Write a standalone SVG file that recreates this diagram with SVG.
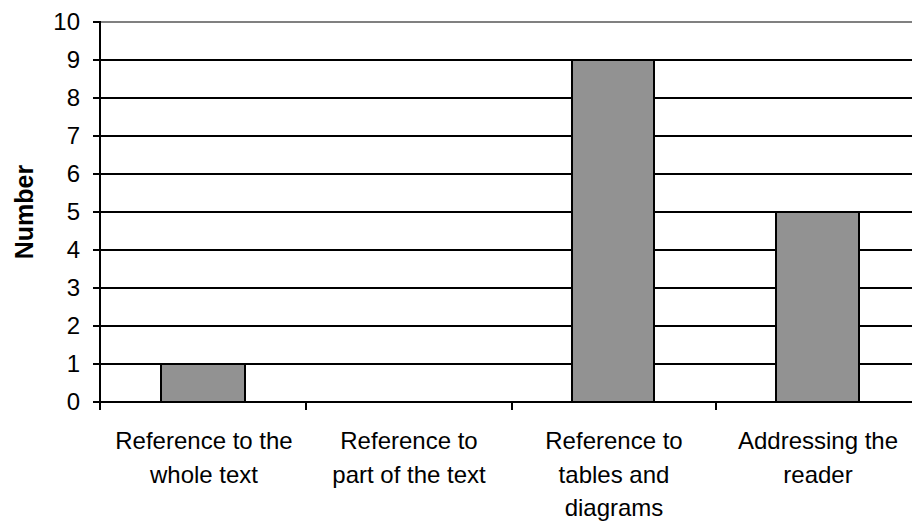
<svg xmlns="http://www.w3.org/2000/svg" width="912" height="522" viewBox="0 0 912 522">
<style>
.grid{stroke:#000;stroke-width:2;fill:none}
.axis{stroke:#000;stroke-width:2;fill:none}
.bar{fill:#929292;stroke:#000;stroke-width:2}
.ylab{font-family:"Liberation Sans",Arial,sans-serif;font-size:24px;fill:#000;text-anchor:end}
.clab{font-family:"Liberation Sans",Arial,sans-serif;font-size:24px;fill:#000;text-anchor:middle}
.title{font-family:"Liberation Sans",Arial,sans-serif;font-size:25px;font-weight:bold;fill:#000;text-anchor:middle}
</style>
<rect width="912" height="522" fill="#fff"/>
<g id="gridlines">
<line x1="100" y1="22" x2="912" y2="22" stroke="#808080" stroke-width="2"/>
<line class="grid" x1="100" y1="60" x2="912" y2="60"/>
<line class="grid" x1="100" y1="98" x2="912" y2="98"/>
<line class="grid" x1="100" y1="136" x2="912" y2="136"/>
<line class="grid" x1="100" y1="174" x2="912" y2="174"/>
<line class="grid" x1="100" y1="212" x2="912" y2="212"/>
<line class="grid" x1="100" y1="250" x2="912" y2="250"/>
<line class="grid" x1="100" y1="288" x2="912" y2="288"/>
<line class="grid" x1="100" y1="326" x2="912" y2="326"/>
<line class="grid" x1="100" y1="364" x2="912" y2="364"/>
</g>
<g id="bars">
<rect id="bar1" class="bar" x="161" y="364" width="84" height="38"/>
<rect id="bar3" class="bar" x="572" y="60" width="82" height="342"/>
<rect id="bar4" class="bar" x="776" y="212" width="83" height="190"/>
</g>
<g id="axes">
<line class="axis" x1="100" y1="21" x2="100" y2="410"/>
<line class="axis" x1="100" y1="402" x2="912" y2="402"/>
<path class="axis" d="M93 22H100M93 60H100M93 98H100M93 136H100M93 174H100M93 212H100M93 250H100M93 288H100M93 326H100M93 364H100M93 402H100"/>
<path class="axis" d="M306 402V410M512 402V410M716 402V410"/>
</g>
<g id="ylabels">
<text class="ylab" x="80" y="30">10</text>
<text class="ylab" x="80" y="68">9</text>
<text class="ylab" x="80" y="106">8</text>
<text class="ylab" x="80" y="144">7</text>
<text class="ylab" x="80" y="182">6</text>
<text class="ylab" x="80" y="220">5</text>
<text class="ylab" x="80" y="258">4</text>
<text class="ylab" x="80" y="296">3</text>
<text class="ylab" x="80" y="334">2</text>
<text class="ylab" x="80" y="372">1</text>
<text class="ylab" x="80" y="410">0</text>
</g>
<text class="title" transform="translate(33,212) rotate(-90)">Number</text>
<g id="categories">
<text class="clab" x="204" y="449">Reference to the</text>
<text class="clab" x="204" y="483">whole text</text>
<text class="clab" x="409" y="449">Reference to</text>
<text class="clab" x="409" y="483">part of the text</text>
<text class="clab" x="614" y="449">Reference to</text>
<text class="clab" x="614" y="483">tables and</text>
<text class="clab" x="614" y="516">diagrams</text>
<text class="clab" x="818" y="449">Addressing the</text>
<text class="clab" x="818" y="483">reader</text>
</g>
</svg>
